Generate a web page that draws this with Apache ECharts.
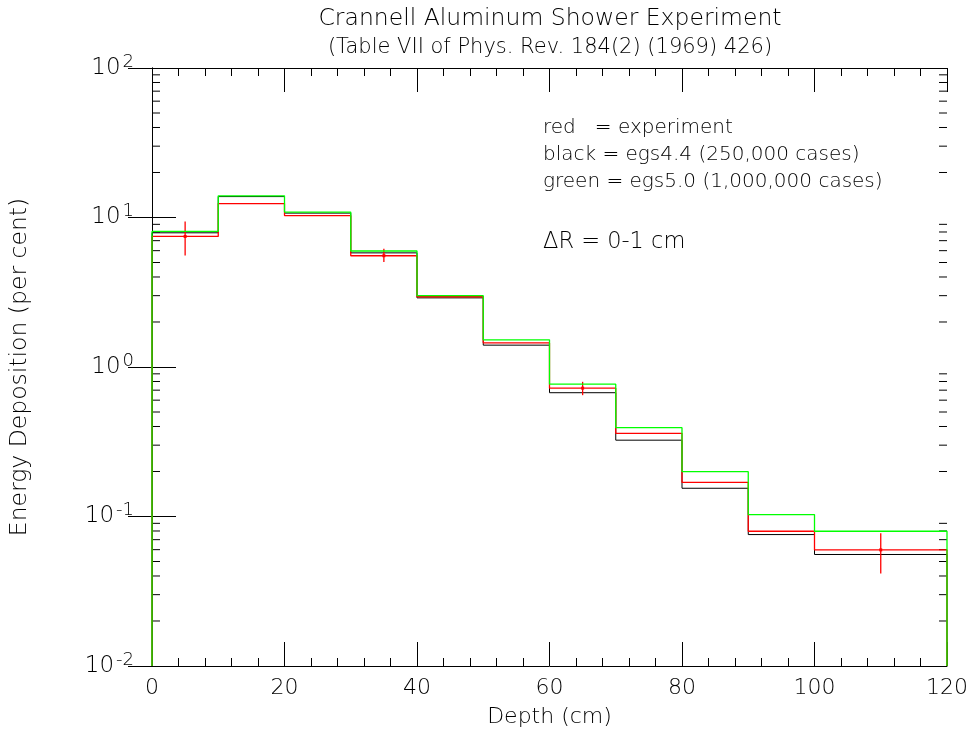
<!DOCTYPE html>
<html>
<head>
<meta charset="utf-8">
<script src="https://cdn.jsdelivr.net/npm/echarts@6/dist/echarts.min.js"></script>
<style>html,body{margin:0;padding:0;background:#fff}#c{width:972px;height:733px}</style>
</head>
<body>
<div id="c"></div>
<script>
// ---- data ----
const binEdges = [0, 10, 20, 30, 40, 50, 60, 70, 80, 90, 100, 120];
const redValues   = [7.47, 12.4, 10.3, 5.55, 2.95, 1.45, 0.722, 0.360, 0.169, 0.0797, 0.0598];
const blackValues = [7.9, 13.8, 10.7, 5.8, 2.90, 1.40, 0.673, 0.324, 0.1545, 0.0757, 0.0557];
const greenValues = [8.07, 13.97, 10.87, 5.97, 3.00, 1.52, 0.767, 0.393, 0.1995, 0.103, 0.0797];
const expDepth = [5, 35, 65, 110];
const expValue = [7.47, 5.55, 0.722, 0.0598];
const expLow   = [5.58, 5.04, 0.648, 0.0416];
const expHigh  = [9.4, 6.18, 0.796, 0.0773];
const xTicks = [0, 20, 40, 60, 80, 100, 120];
const yTicks = [0.01, 0.1, 1, 10, 100];
const minorMantissas = [2, 3, 4, 5, 6, 7, 8, 9];
const decades = [0.01, 0.1, 1, 10];

const YMIN = 0.01, YMAX = 100, XMIN = 0, XMAX = 120;
const FONT = '"DejaVu Sans", sans-serif';
const FW = 200;

function stepPoints(vals) {
  const pts = [[binEdges[0], YMIN]];
  for (let i = 0; i < vals.length; i++) {
    pts.push([binEdges[i], vals[i]]);
    pts.push([binEdges[i + 1], vals[i]]);
  }
  pts.push([binEdges[binEdges.length - 1], YMIN]);
  return pts;
}

const minorYTicks = [];
decades.forEach(d => minorMantissas.forEach(m => minorYTicks.push(m * d)));

const expData = expDepth.map((x, i) => [x, expValue[i], expLow[i], expHigh[i]]);

const chart = echarts.init(document.getElementById('c'));

function supLabel(v) {
  const e = Math.round(Math.log10(v));
  return '{b|10}{s|' + e + '}';
}

const axisLineStyle = { color: '#000', width: 1 };

function txt(text, x, y, size, align) {
  return { type: 'text', x: x, y: y, style: { text: text, fontFamily: FONT, fontWeight: FW, fontSize: size, fill: '#000', textAlign: align, textVerticalAlign: 'middle' } };
}

chart.setOption({
  animation: false,
  backgroundColor: '#fff',
  grid: { left: 150, right: 25, top: 68, bottom: 66, containLabel: false },
  xAxis: [
    {
      type: 'value', min: XMIN, max: XMAX, interval: 20, position: 'bottom',
      name: 'Depth (cm)', nameLocation: 'middle', nameGap: 40,
      nameTextStyle: { fontFamily: FONT, fontWeight: FW, fontSize: 22, color: '#000' },
      axisLine: { show: true, lineStyle: axisLineStyle },
      axisTick: { show: true, inside: true, length: 24, lineStyle: axisLineStyle },
      minorTick: { show: true, splitNumber: 5, length: 8, lineStyle: axisLineStyle },
      splitLine: { show: false },
      axisLabel: { fontFamily: FONT, fontWeight: FW, fontSize: 22, color: '#000', margin: 11,
        formatter: v => xTicks.includes(v) ? String(v) : '' }
    },
    {
      type: 'value', min: XMIN, max: XMAX, interval: 20, position: 'top',
      axisLine: { show: true, lineStyle: axisLineStyle },
      axisTick: { show: true, inside: true, length: 24, lineStyle: axisLineStyle },
      minorTick: { show: true, splitNumber: 5, length: 8, lineStyle: axisLineStyle },
      splitLine: { show: false },
      axisLabel: { show: false }
    }
  ],
  yAxis: [
    {
      type: 'log', logBase: 10, min: YMIN, max: YMAX, position: 'left',
      name: 'Energy Deposition (per cent)', nameLocation: 'middle', nameGap: 120,
      nameTextStyle: { fontFamily: FONT, fontWeight: FW, fontSize: 23.5, color: '#000' },
      axisLine: { show: true, lineStyle: axisLineStyle },
      axisTick: { show: true, inside: true, length: 24, lineStyle: axisLineStyle },
      splitLine: { show: false },
      axisLabel: {
        margin: 18, color: '#000',
        formatter: v => supLabel(v),
        rich: {
          b: { fontFamily: FONT, fontWeight: FW, fontSize: 23, color: '#000' },
          s: { fontFamily: FONT, fontWeight: FW, fontSize: 18, color: '#000', padding: [0, 0, 12, 2] }
        }
      }
    },
    {
      type: 'log', logBase: 10, min: YMIN, max: YMAX, position: 'right',
      axisLine: { show: true, lineStyle: axisLineStyle },
      axisTick: { show: true, inside: true, length: 24, lineStyle: axisLineStyle },
      splitLine: { show: false },
      axisLabel: { show: false }
    }
  ],
  graphic: [
    txt('Crannell Aluminum Shower Experiment', 550, 19, 23.5, 'center'),
    txt('(Table VII of Phys. Rev. 184(2) (1969) 426)', 550, 48, 21, 'center'),
    txt('red   = experiment', 543, 128, 20, 'left'),
    txt('black = egs4.4 (250,000 cases)', 543, 155, 20, 'left'),
    txt('green = egs5.0 (1,000,000 cases)', 543, 182, 20, 'left'),
    txt('ΔR = 0-1 cm', 543, 242, 22.5, 'left')
  ],
  series: [
    {
      type: 'custom', name: 'minorTicks', xAxisIndex: 0, yAxisIndex: 0, silent: true,
      data: minorYTicks.map(v => [v]),
      encode: { y: 0 },
      renderItem: (params, api) => {
        const v = api.value(0);
        const pl = api.coord([XMIN, v]);
        const pr = api.coord([XMAX, v]);
        return {
          type: 'group',
          children: [
            { type: 'line', shape: { x1: pl[0], y1: pl[1], x2: pl[0] + 8, y2: pl[1] }, style: { stroke: '#000', lineWidth: 1 } },
            { type: 'line', shape: { x1: pr[0] - 8, y1: pr[1], x2: pr[0], y2: pr[1] }, style: { stroke: '#000', lineWidth: 1 } }
          ]
        };
      }
    },
    { type: 'line', name: 'black', data: stepPoints(blackValues), symbol: 'none', lineStyle: { color: '#000', width: 1 }, z: 3 },
    { type: 'line', name: 'red', data: stepPoints(redValues), symbol: 'none', lineStyle: { color: '#ff0000', width: 1.3 }, z: 4 },
    {
      type: 'custom', name: 'errors', z: 4,
      data: expData,
      encode: { x: 0, y: 1 },
      renderItem: (params, api) => {
        const x = api.value(0);
        const c = api.coord([x, api.value(1)]);
        const lo = api.coord([x, api.value(2)]);
        const hi = api.coord([x, api.value(3)]);
        return {
          type: 'group',
          children: [
            { type: 'line', shape: { x1: c[0], y1: hi[1], x2: c[0], y2: lo[1] }, style: { stroke: '#ff0000', lineWidth: 1.3 } },
            { type: 'rect', shape: { x: c[0] - 1.5, y: c[1] - 1.5, width: 3, height: 3 }, style: { fill: '#ff0000' } }
          ]
        };
      }
    },
    { type: 'line', name: 'green', data: stepPoints(greenValues), symbol: 'none', lineStyle: { color: '#00ff00', width: 1.3 }, z: 5 }
  ]
});
</script>
</body>
</html>
